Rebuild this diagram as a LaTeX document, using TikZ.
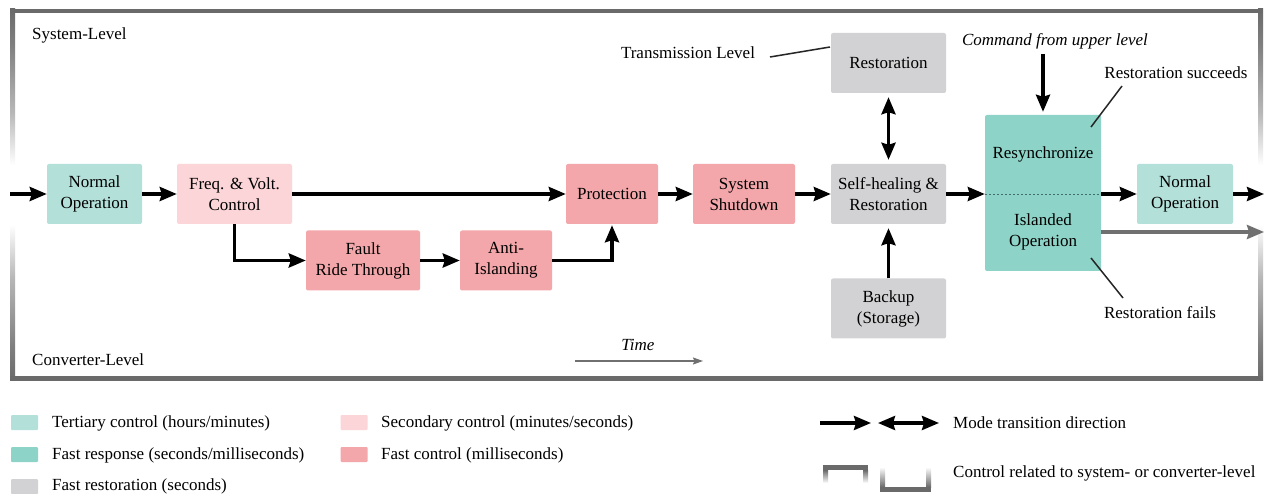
\documentclass[tikz,border=0pt]{standalone}
\usepackage{fontspec}
\setmainfont{Liberation Serif}
\usetikzlibrary{arrows.meta,calc}
\definecolor{tertc}{HTML}{B3E0D9}
\definecolor{fastrc}{HTML}{8DD3C7}
\definecolor{restc}{HTML}{D2D2D4}
\definecolor{secc}{HTML}{FBD5D7}
\definecolor{fastcc}{HTML}{F4A7AA}
\definecolor{framec}{HTML}{6A6A6A}
\definecolor{framel}{HTML}{B8B8B8}
\definecolor{grayarr}{HTML}{707070}
\definecolor{dashc}{HTML}{3F6F68}
\pgfdeclareverticalshading{sidefade}{100bp}{color(0bp)=(framec); color(25bp)=(framec); color(30bp)=(framec!85); color(39bp)=(framel); color(46bp)=(white); color(54bp)=(white); color(61bp)=(framel); color(70bp)=(framec!85); color(75bp)=(framec); color(100bp)=(framec)}
\newcommand\nf{\fontsize{17}{21}\selectfont}
\tikzset{
  mode/.style={rounded corners=2pt, align=center, font=\nf, inner sep=0pt, minimum height=60pt},
  tert/.style={mode, fill=tertc},
  secd/.style={mode, fill=secc},
  fastc/.style={mode, fill=fastcc},
  restb/.style={mode, fill=restc},
  fresp/.style={mode, fill=fastrc},
  lbl/.style={font=\nf, inner sep=0pt},
  arr/.style={line width=3.4pt, -{Stealth[length=17pt,width=14pt,inset=2pt]}},
  darr/.style={line width=3.4pt, {Stealth[length=17pt,width=14pt,inset=2pt]}-{Stealth[length=17pt,width=14pt,inset=2pt]}},
  garr/.style={line width=3.2pt, grayarr, -{Stealth[length=17pt,width=14pt,inset=2pt]}},
  leader/.style={line width=1.5pt, black!85},
  swatch/.style={minimum width=27pt, minimum height=15pt, inner sep=0pt, rounded corners=1pt},
}
\begin{document}
\begin{tikzpicture}[x=1pt,y=-1pt]
\fill[white] (0,0) rectangle (1267,494);
\useasboundingbox (0,0) rectangle (1267,494);

% frame
\shade[shading=sidefade] (10,9) rectangle (15,381);
\shade[shading=sidefade] (1258,9) rectangle (1263,381);
\fill[framec] (10,9) rectangle (1263,13.5);
\fill[framec] (10,376) rectangle (1263,381);

% level labels
\node[lbl, anchor=west] (syslvl) at (32,35) {System-Level};
\node[lbl, anchor=west] (convlvl) at (32,360) {Converter-Level};

% mode boxes
\node[tert, minimum width=95pt] (no1) at (94.5,194) {Normal\\Operation};
\node[secd, minimum width=115pt] (fvc) at (234.5,194) {Freq. \& Volt.\\Control};
\node[fastc, minimum width=114pt] (frt) at (363,260.5) {Fault\\Ride Through};
\node[fastc, minimum width=92pt] (ai) at (506,260.5) {Anti-\\Islanding};
\node[fastc, minimum width=92pt] (prot) at (612,194) {Protection};
\node[fastc, minimum width=102pt] (ss) at (744,194) {System\\Shutdown};
\node[restb, minimum width=115pt] (sh) at (888.5,194) {Self-healing \&\\Restoration};
\node[restb, minimum width=115pt] (rst) at (888.5,63) {Restoration};
\node[restb, minimum width=115pt] (bk) at (888.5,308.5) {Backup\\(Storage)};
\node[fresp, minimum width=116pt, minimum height=156pt] (isl) at (1043,193) {};
\node[lbl] (resync) at (1043,154) {Resynchronize};
\node[lbl, align=center] (islt) at (1043,232) {Islanded\\Operation};
\node[tert, minimum width=96pt] (no2) at (1185,194) {Normal\\Operation};

% annotation texts
\node[lbl] (trans) at (688,53) {Transmission Level};
\node[lbl, font=\nf\itshape] (cmd) at (1055,41) {Command from upper level};
\node[lbl] (succ) at (1176,73) {Restoration succeeds};
\node[lbl] (fail) at (1160,313) {Restoration fails};
\node[lbl, font=\nf\itshape] (time) at (638,345) {Time};

% coordinates for free ends
\coordinate (in) at (10,194);
\coordinate (out1) at (1264,194);
\coordinate (out2) at (1264,232);
\coordinate (trA) at (770,57);
\coordinate (trB) at (830,47);
\coordinate (scA) at (1091,127);
\coordinate (scB) at (1122,86);
\coordinate (flA) at (1091,258);
\coordinate (flB) at (1123,298);
\coordinate (tmA) at (575,361);
\coordinate (tmB) at (703,361);

% connectors
\draw[arr] (in) -- (no1.west);
\draw[arr] (no1) -- (fvc);
\draw[arr] (fvc) -- (prot);
\draw[arr] (fvc.south) |- (frt.west);
\draw[arr] (frt) -- (ai);
\draw[arr, shorten >=1pt] (ai.east) -| (prot.south);
\draw[arr] (prot) -- (ss);
\draw[arr] (ss) -- (sh);
\draw[darr, shorten <=4pt, shorten >=4pt] (rst) -- (sh);
\draw[arr, shorten >=4pt] (bk) -- (sh);
\draw[arr] (sh.east) -- (sh.east -| isl.west);
\draw[dashc, line width=0.8pt, dash pattern=on 2pt off 2pt] (sh.east -| isl.west) -- (sh.east -| isl.east);
\draw[arr] (no2.west -| isl.east) -- (no2.west);
\draw[arr] (no2) -- (out1);
\draw[garr] (out2 -| isl.east) -- (out2);
\draw[arr, shorten <=5pt, shorten >=3pt] (cmd.south -| isl.north) -- (isl.north);

\draw[leader] (trA) -- (trB);
\draw[leader] (scA) -- (scB);
\draw[leader] (flA) -- (flB);
\draw[line width=1.5pt, grayarr, -{Stealth[length=10pt,width=7pt,inset=1.5pt]}] (tmA) -- (tmB);

% legend
\node[swatch, fill=tertc] (sw1) at (24.5,422.5) {};
\node[swatch, fill=fastrc] (sw2) at (24.5,454.5) {};
\node[swatch, fill=restc] (sw3) at (24.5,486.5) {};
\node[swatch, fill=secc] (sw4) at (354,422.5) {};
\node[swatch, fill=fastcc] (sw5) at (354,454.5) {};
\node[lbl, anchor=west] (lt1) at (52,423) {Tertiary control (hours/minutes)};
\node[lbl, anchor=west] (lt2) at (52,455) {Fast response (seconds/milliseconds)};
\node[lbl, anchor=west] (lt3) at (52,486) {Fast restoration (seconds)};
\node[lbl, anchor=west] (lt4) at (381,423) {Secondary control (minutes/seconds)};
\node[lbl, anchor=west] (lt5) at (381,455) {Fast control (milliseconds)};

\coordinate (laA) at (820,423);
\coordinate (laB) at (871,423);
\coordinate (lbA) at (878,423);
\coordinate (lbB) at (939,423);
\draw[arr] (laA) -- (laB);
\draw[darr] (lbA) -- (lbB);
\node[lbl, anchor=west] (lt6) at (953,423) {Mode transition direction};
\node[lbl, anchor=west] (lt7) at (953,473) {Control related to system- or converter-level};

\fill[framec] (823,465) rectangle (868,470);
\shade[top color=framec, bottom color=white] (823,470) rectangle (828,483);
\shade[top color=framec, bottom color=white] (863,470) rectangle (868,483);
\fill[framec] (880,487) rectangle (931,492);
\shade[top color=white, bottom color=framec] (880,467) rectangle (885,487);
\shade[top color=white, bottom color=framec] (926,467) rectangle (931,487);
\end{tikzpicture}
\end{document}
